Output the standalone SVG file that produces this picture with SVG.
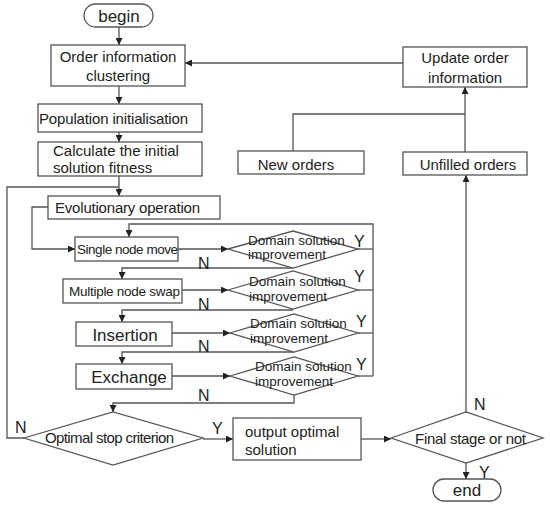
<svg xmlns="http://www.w3.org/2000/svg" width="550" height="506" viewBox="0 0 550 506">
<style>
.s{fill:#fff;stroke:#555;stroke-width:1.3}
.c{fill:none;stroke:#555;stroke-width:1.3}
text{font-family:"Liberation Sans","DejaVu Sans",sans-serif;fill:#222}
.t15{font-size:15px}
.t13{font-size:13.5px}
.t17{font-size:17px}
.lb{font-size:16px}
.m{text-anchor:middle}
</style>
<defs>
<marker id="a" viewBox="0 0 8 8" refX="8" refY="4" markerWidth="7" markerHeight="7" markerUnits="userSpaceOnUse" orient="auto">
<path d="M0,0 L8,4 L0,8 z" fill="#222"/>
</marker>
</defs>
<rect width="550" height="506" fill="#fff"/>
<g id="connectors">
<path class="c" d="M119,27 V45" marker-end="url(#a)"/>
<path class="c" d="M119,86 V104" marker-end="url(#a)"/>
<path class="c" d="M119,132 V142" marker-end="url(#a)"/>
<path class="c" d="M119,176 V196" marker-end="url(#a)"/>
<path class="c" d="M24,438 H7 V187 H119"/>
<path class="c" d="M48,207 H32 V249 H75" marker-end="url(#a)"/>
<path class="c" d="M178,249 H228" marker-end="url(#a)"/>
<path class="c" d="M358,249 H373"/>
<path class="c" d="M373,376 V224 H129 V237" marker-end="url(#a)"/>
<path class="c" d="M293,268 H122 V279" marker-end="url(#a)"/>
<path class="c" d="M182,290 H228" marker-end="url(#a)"/>
<path class="c" d="M358,290 H373"/>
<path class="c" d="M293,310 H122 V322" marker-end="url(#a)"/>
<path class="c" d="M172,333 H230" marker-end="url(#a)"/>
<path class="c" d="M358,333 H373"/>
<path class="c" d="M294,352 H122 V364" marker-end="url(#a)"/>
<path class="c" d="M172,376 H230" marker-end="url(#a)"/>
<path class="c" d="M358,376 H373"/>
<path class="c" d="M294,395 V403 H113 V412" marker-end="url(#a)"/>
<path class="c" d="M203,439 H233" marker-end="url(#a)"/>
<path class="c" d="M361,439 H391" marker-end="url(#a)"/>
<path class="c" d="M466,412 V175" marker-end="url(#a)"/>
<path class="c" d="M466,463 V479" marker-end="url(#a)"/>
<path class="c" d="M465,152 V87" marker-end="url(#a)"/>
<path class="c" d="M293,151 V114 H465"/>
<path class="c" d="M403,63 H185" marker-end="url(#a)"/>
<text class="lb" x="198" y="269">N</text>
<text class="lb" x="354" y="247">Y</text>
<text class="lb" x="198" y="310">N</text>
<text class="lb" x="354" y="282">Y</text>
<text class="lb" x="198" y="352">N</text>
<text class="lb" x="356" y="327">Y</text>
<text class="lb" x="198" y="401">N</text>
<text class="lb" x="356" y="370">Y</text>
<text class="lb" x="15" y="433">N</text>
<text class="lb" x="212" y="434">Y</text>
<text class="lb" x="474" y="410">N</text>
<text class="lb" x="479" y="478">Y</text>
</g>
<g id="begin">
<rect class="s" x="84" y="4" width="69" height="23" rx="11.5"/>
<text class="t17 m" x="119" y="22">begin</text>
</g>
<g id="order-clustering">
<rect class="s" x="51" y="45" width="134" height="41"/>
<text class="t15 m" x="118" y="62">Order information</text>
<text class="t15 m" x="118" y="81">clustering</text>
</g>
<g id="population">
<rect class="s" x="38" y="104" width="164" height="28"/>
<text class="t15" x="39" y="124" textLength="149">Population initialisation</text>
</g>
<g id="fitness">
<rect class="s" x="38" y="142" width="164" height="34"/>
<text class="t15" x="53" y="156">Calculate the initial</text>
<text class="t15" x="53" y="173">solution fitness</text>
</g>
<g id="evolutionary">
<rect class="s" x="48" y="196" width="172" height="23"/>
<text class="t15" x="55" y="213" textLength="145">Evolutionary operation</text>
</g>
<g id="single-node-move">
<rect class="s" x="75" y="237" width="103" height="24"/>
<text class="t13" x="77" y="254" textLength="101">Single node move</text>
</g>
<g id="d1">
<polygon class="s" points="228,249 293,231 358,249 293,268"/>
<text class="t13" x="248" y="245">Domain solution</text>
<text class="t13" x="248" y="259">improvement</text>
</g>
<g id="multiple-node-swap">
<rect class="s" x="63" y="279" width="119" height="24"/>
<text class="t13" x="69" y="296" textLength="111">Multiple node swap</text>
</g>
<g id="d2">
<polygon class="s" points="228,290 293,271 358,290 293,309"/>
<text class="t13" x="249" y="286">Domain solution</text>
<text class="t13" x="249" y="301">improvement</text>
</g>
<g id="insertion">
<rect class="s" x="76" y="322" width="96" height="24"/>
<text class="t17 m" x="125" y="341">Insertion</text>
</g>
<g id="d3">
<polygon class="s" points="230,333 294,314 358,333 294,352"/>
<text class="t13" x="250" y="328">Domain solution</text>
<text class="t13" x="250" y="343">improvement</text>
</g>
<g id="exchange">
<rect class="s" x="76" y="364" width="96" height="25"/>
<text class="t17 m" x="129" y="383">Exchange</text>
</g>
<g id="d4">
<polygon class="s" points="230,376 294,357 358,376 294,395"/>
<text class="t13" x="255" y="371">Domain solution</text>
<text class="t13" x="255" y="386">improvement</text>
</g>
<g id="optimal-stop">
<polygon class="s" points="24,438 113,412 203,438 113,465"/>
<text class="t15" x="45" y="443" textLength="129">Optimal stop criterion</text>
</g>
<g id="output">
<rect class="s" x="233" y="418" width="128" height="42"/>
<text class="t15" x="245" y="437">output optimal</text>
<text class="t15" x="245" y="455">solution</text>
</g>
<g id="final-stage">
<polygon class="s" points="391,438 466,412 543,438 466,463"/>
<text class="t15" x="415" y="444" textLength="111">Final stage or not</text>
</g>
<g id="end">
<rect class="s" x="433" y="479" width="68" height="22" rx="11"/>
<text class="t17 m" x="467" y="496">end</text>
</g>
<g id="update-order">
<rect class="s" x="403" y="47" width="124" height="40"/>
<text class="t15 m" x="465" y="63">Update order</text>
<text class="t15 m" x="465" y="83">information</text>
</g>
<g id="new-orders">
<rect class="s" x="238" y="151" width="126" height="23"/>
<text class="t15 m" x="296" y="170">New orders</text>
</g>
<g id="unfilled-orders">
<rect class="s" x="403" y="152" width="124" height="23"/>
<text class="t15 m" x="468" y="170">Unfilled orders</text>
</g>
</svg>
